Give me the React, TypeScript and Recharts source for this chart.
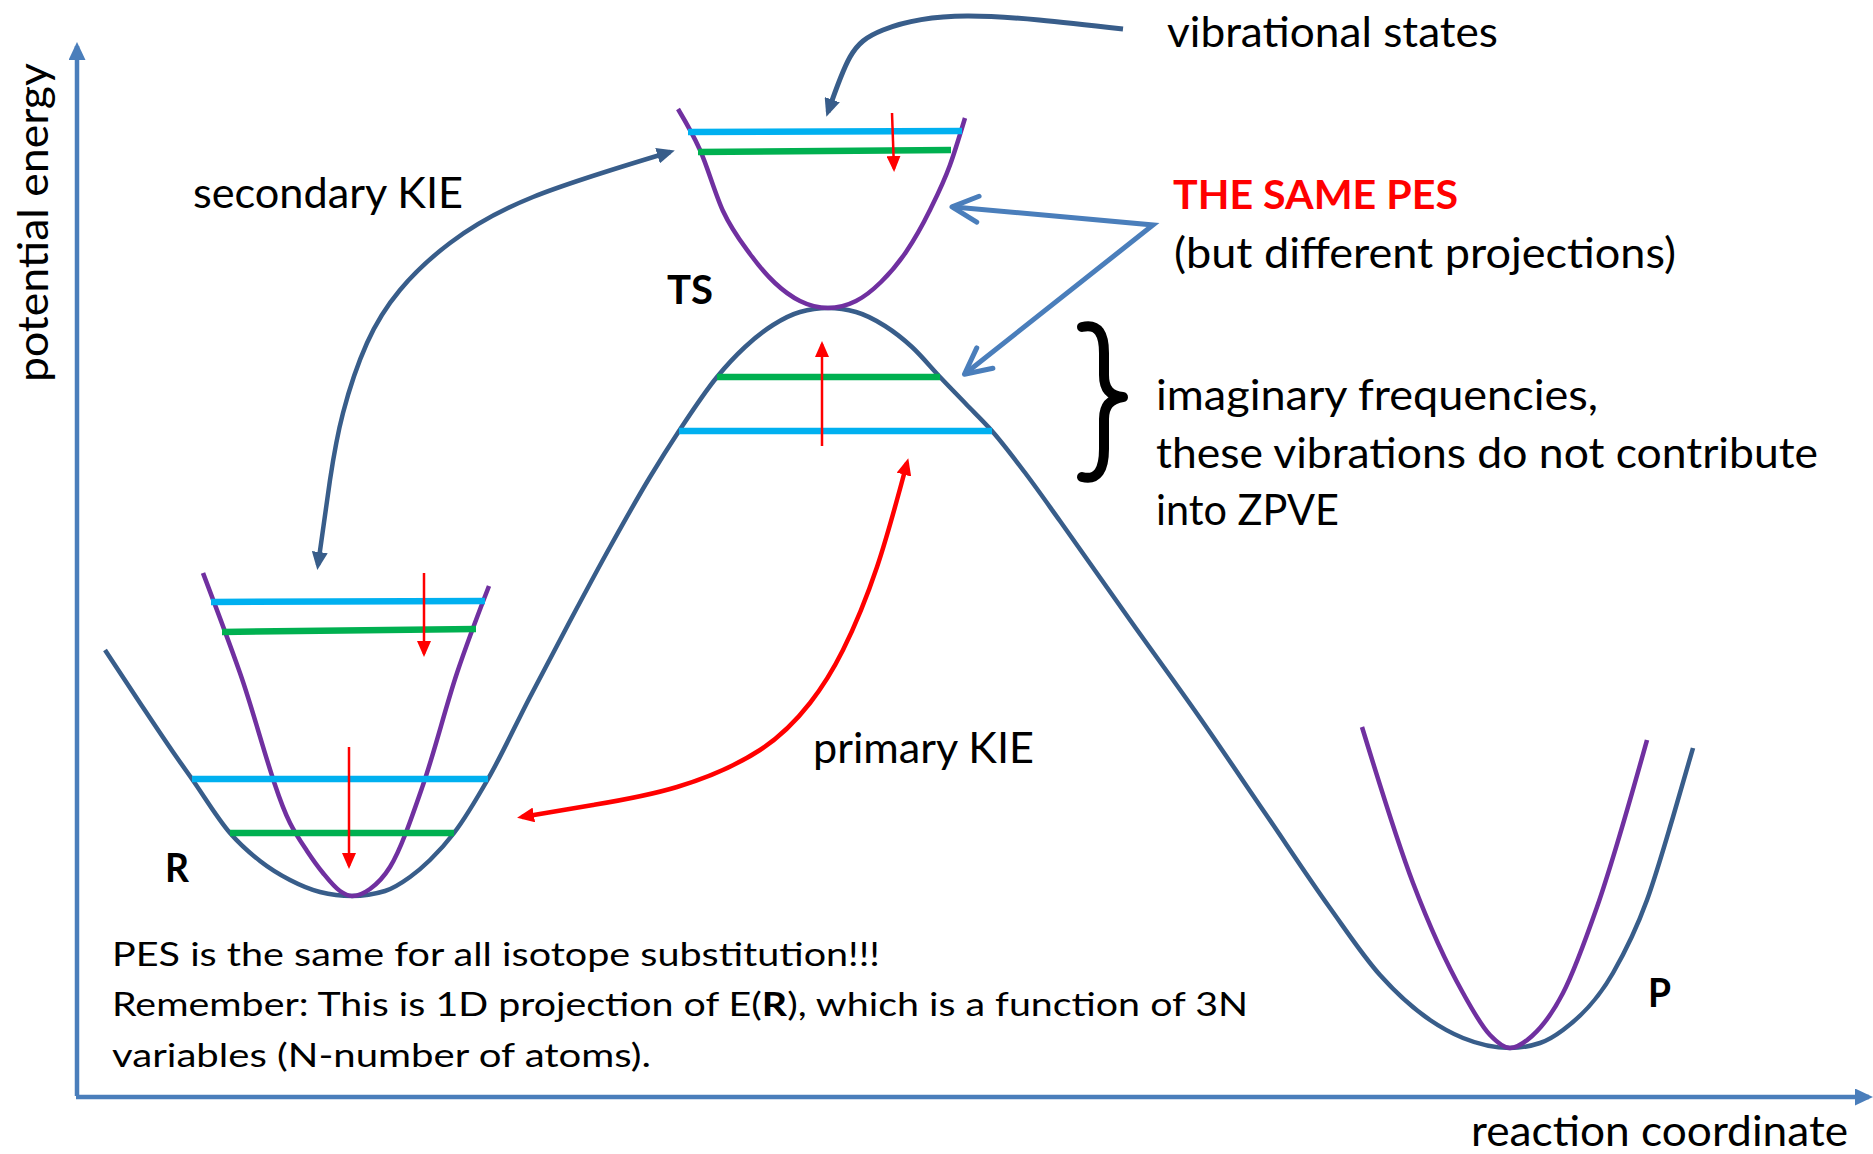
import React from 'react';
import { ComposedChart, Line, XAxis, YAxis, Customized } from 'recharts';

// ---------- data (reaction coordinate x, potential energy e) ----------
type Pair = [number, number];

const pesCurve: Pair[] = [
  [2.9, 44.6], [6.4, 39.3], [9.7, 34.4], [11.6, 31.7], [15.4, 26.3], [18.4, 23.5],
  [21.4, 21.6], [24.4, 20.4], [27.6, 20.0], [30.9, 20.5], [33.4, 21.9], [35.4, 23.6],
  [37.8, 26.3], [41.2, 31.7], [45.4, 39.9], [49.4, 47.5], [53.4, 54.9], [57.4, 61.9],
  [60.3, 66.5], [64.1, 71.9], [66.9, 74.9], [69.7, 77.1], [72.4, 78.4], [75.2, 78.8],
  [78.0, 78.4], [80.9, 77.0], [83.6, 74.9], [86.4, 71.9], [89.0, 69.2], [91.6, 66.5],
  [95.0, 62.2], [98.4, 57.5], [105.4, 47.6], [112.4, 37.8], [118.9, 28.3], [125.4, 18.8],
  [130.4, 12.1], [135.4, 7.6], [138.7, 5.8], [143.4, 4.8], [146.4, 5.3], [148.7, 6.6],
  [153.7, 12.3], [157.1, 19.6], [159.7, 27.9], [161.7, 34.8],
];

const reactantWell: Pair[] = [
  [12.7, 52.3], [16.4, 42.3], [21.4, 27.3], [23.1, 24.5], [24.7, 22.3], [26.4, 20.5],
  [27.6, 20.0], [29.4, 20.7], [31.4, 22.9], [34.7, 31.1], [38.1, 42.3], [41.3, 51.0],
];

const tsWell: Pair[] = [
  [60.2, 98.7], [62.4, 94.6], [64.7, 88.5], [67.4, 84.2], [69.9, 81.3], [72.4, 79.5],
  [75.2, 78.8], [78.0, 79.5], [80.5, 81.4], [83.0, 84.4], [85.4, 88.6], [87.4, 93.1],
  [88.9, 97.8],
];

const productWell: Pair[] = [
  [128.6, 36.9], [133.7, 21.3], [138.7, 10.3], [141.4, 6.1], [143.4, 4.8], [145.6, 6.0],
  [148.7, 10.3], [152.1, 18.9], [157.1, 35.6],
];

// vibrational levels
const rUpperCyan: Pair[] = [[13.5, 49.4], [40.9, 49.5]];
const rUpperGreen: Pair[] = [[14.6, 46.4], [40.0, 46.7]];
const rLowerCyan: Pair[] = [[11.6, 31.7], [41.2, 31.7]];
const rLowerGreen: Pair[] = [[15.4, 26.3], [37.8, 26.3]];
const tsUpperCyan: Pair[] = [[61.2, 96.4], [88.6, 96.5]];
const tsUpperGreen: Pair[] = [[62.2, 94.4], [87.5, 94.6]];
const tsLowerGreen: Pair[] = [[64.1, 71.9], [86.4, 71.9]];
const tsLowerCyan: Pair[] = [[60.3, 66.5], [91.6, 66.5]];

// level shifts (red arrows)
const tsTopShift: Pair[] = [[81.6, 98.3], [81.8, 92.7]];
const tsUpShift: Pair[] = [[74.6, 65.0], [74.6, 75.2]];
const rUpperShift: Pair[] = [[34.8, 52.3], [34.8, 44.2]];
const rLowerShift: Pair[] = [[27.3, 34.9], [27.3, 23.0]];

// annotation arrows
const secondaryKie: Pair[] = [
  [24.2, 53.1], [25.4, 61.6], [26.7, 68.3], [29.1, 75.3], [32.4, 80.6], [37.4, 85.3],
  [45.7, 89.9], [59.4, 94.4],
];
const primaryKie: Pair[] = [
  [83.1, 63.3], [80.1, 52.9], [76.7, 44.6], [73.4, 39.3], [68.4, 34.6], [60.1, 30.9],
  [51.7, 29.1], [44.6, 27.9],
];
const vibArrow: Pair[] = [[104.7, 106.7], [89.1, 108.0], [80.7, 106.6], [77.4, 103.9], [75.2, 98.4]];
const samePesArrows: Pair[] = [[87.8, 88.9], [107.7, 87.1], [89.0, 72.3]];

// axes
const energyAxis: Pair[] = [[0.1, 0], [0.1, 105.0]];
const coordAxis: Pair[] = [[0, -0.1], [179.3, -0.1]];

const X_DOMAIN: [number, number] = [-7.6, 179.7];
const Y_DOMAIN: [number, number] = [-5.8, 109.6];

// ---------- styles ----------
const C = {
  pes: '#385D8A',
  axis: '#4A7EBB',
  purple: '#7030A0',
  cyan: '#00B0F0',
  green: '#00B050',
  red: '#FF0000',
};
const FONT = "Lato, 'Open Sans', 'DejaVu Sans', sans-serif";

type Series = {
  key: string;
  data: Pair[];
  stroke: string;
  width: number;
  curve: 'monotone' | 'linear' | 'natural';
  mStart?: string;
  mEnd?: string;
};

const series: Series[] = [
  { key: 'energyAxis', data: energyAxis, stroke: C.axis, width: 4.5, curve: 'linear', mEnd: 'mAxis' },
  { key: 'coordAxis', data: coordAxis, stroke: C.axis, width: 4.5, curve: 'linear', mEnd: 'mAxis' },
  { key: 'pes', data: pesCurve, stroke: C.pes, width: 4.5, curve: 'monotone' },
  { key: 'rWell', data: reactantWell, stroke: C.purple, width: 4.5, curve: 'monotone' },
  { key: 'tsWell', data: tsWell, stroke: C.purple, width: 4.5, curve: 'monotone' },
  { key: 'pWell', data: productWell, stroke: C.purple, width: 4.5, curve: 'monotone' },
  { key: 'rUC', data: rUpperCyan, stroke: C.cyan, width: 6.5, curve: 'linear' },
  { key: 'rUG', data: rUpperGreen, stroke: C.green, width: 6.5, curve: 'linear' },
  { key: 'rLC', data: rLowerCyan, stroke: C.cyan, width: 6.5, curve: 'linear' },
  { key: 'rLG', data: rLowerGreen, stroke: C.green, width: 6.5, curve: 'linear' },
  { key: 'tUC', data: tsUpperCyan, stroke: C.cyan, width: 6.5, curve: 'linear' },
  { key: 'tUG', data: tsUpperGreen, stroke: C.green, width: 6.5, curve: 'linear' },
  { key: 'tLG', data: tsLowerGreen, stroke: C.green, width: 6.5, curve: 'linear' },
  { key: 'tLC', data: tsLowerCyan, stroke: C.cyan, width: 6.5, curve: 'linear' },
  { key: 'tsTop', data: tsTopShift, stroke: C.red, width: 2.5, curve: 'linear', mEnd: 'mRedSmall' },
  { key: 'tsUp', data: tsUpShift, stroke: C.red, width: 2.5, curve: 'linear', mEnd: 'mRedSmall' },
  { key: 'rUp', data: rUpperShift, stroke: C.red, width: 2.5, curve: 'linear', mEnd: 'mRedSmall' },
  { key: 'rLo', data: rLowerShift, stroke: C.red, width: 2.5, curve: 'linear', mEnd: 'mRedSmall' },
  { key: 'secKie', data: secondaryKie, stroke: C.pes, width: 4.5, curve: 'natural', mStart: 'mDark', mEnd: 'mDark' },
  { key: 'primKie', data: primaryKie, stroke: C.red, width: 4.5, curve: 'natural', mStart: 'mRed', mEnd: 'mRed' },
  { key: 'vib', data: vibArrow, stroke: C.pes, width: 5, curve: 'natural', mEnd: 'mDark' },
  { key: 'same', data: samePesArrows, stroke: C.axis, width: 5, curve: 'linear', mStart: 'mChevron', mEnd: 'mChevron' },
];

const toPts = (d: Pair[]) => d.map(([x, e]) => ({ x, e }));

function Markers() {
  const tri = (id: string, L: number, W: number, ref: number, fill: string) => (
    <marker
      id={id}
      viewBox={`0 0 ${L} ${W}`}
      markerWidth={L}
      markerHeight={W}
      refX={ref}
      refY={W / 2}
      orient="auto-start-reverse"
      markerUnits="userSpaceOnUse"
    >
      <path d={`M0,0 L${L},${W / 2} L0,${W} z`} fill={fill} />
    </marker>
  );
  return (
    <defs>
      {tri('mAxis', 18, 17, 14, C.axis)}
      {tri('mRedSmall', 16, 14, 13, C.red)}
      {tri('mRed', 17, 15, 12, C.red)}
      {tri('mDark', 18, 16, 13, C.pes)}
      <marker
        id="mChevron"
        viewBox="-4 -4 34 34"
        markerWidth={34}
        markerHeight={34}
        refX={24}
        refY={13}
        orient="auto-start-reverse"
        markerUnits="userSpaceOnUse"
      >
        <path d="M0,0 L26,13 L0,26" fill="none" stroke={C.axis} strokeWidth={5} strokeLinecap="round" strokeLinejoin="round" />
      </marker>
    </defs>
  );
}

type T = { text: React.ReactNode; x: number; y: number; len: number; size: number; bold?: boolean; color?: string };

const labels: T[] = [
  { text: 'secondary KIE', x: 193, y: 208, len: 270, size: 42 },
  { text: 'vibrational states', x: 1167, y: 47, len: 331, size: 42 },
  { text: 'THE SAME PES', x: 1173, y: 209, len: 285, size: 41, bold: true, color: C.red },
  { text: '(but different projections)', x: 1174, y: 268, len: 502, size: 42 },
  { text: 'imaginary frequencies,', x: 1156, y: 410, len: 442, size: 42 },
  { text: 'these vibrations do not contribute', x: 1156, y: 468, len: 662, size: 42 },
  { text: 'into ZPVE', x: 1156, y: 525, len: 183, size: 42 },
  { text: 'TS', x: 667, y: 304, len: 46, size: 41, bold: true },
  { text: 'primary KIE', x: 813, y: 763, len: 221, size: 42 },
  { text: 'R', x: 165, y: 882, len: 24, size: 41, bold: true },
  { text: 'P', x: 1648, y: 1007, len: 23, size: 41, bold: true },
  { text: 'reaction coordinate', x: 1471, y: 1146, len: 377, size: 42 },
  { text: 'PES is the same for all isotope substitution!!!', x: 112, y: 966, len: 768, size: 32 },
  {
    text: (
      <>
        Remember: This is 1D projection of E(<tspan fontWeight="bold">R</tspan>), which is a function of 3N
      </>
    ),
    x: 112, y: 1016, len: 1136, size: 32,
  },
  { text: 'variables (N-number of atoms).', x: 112, y: 1067, len: 539, size: 32 },
];

function Annotations() {
  return (
    <g fontFamily={FONT}>
      <Markers />
      {labels.map((t, i) => (
        <text
          key={i}
          x={t.x}
          y={t.y}
          fontSize={t.size}
          fontWeight={t.bold ? 'bold' : 'normal'}
          fill={t.color || '#000'}
          textLength={t.len}
          lengthAdjust="spacingAndGlyphs"
        >
          {t.text}
        </text>
      ))}
      <text
        transform="translate(48,382) rotate(-90)"
        x={0}
        y={0}
        fontSize={42}
        fill="#000"
        textLength={319}
        lengthAdjust="spacingAndGlyphs"
      >
        potential energy
      </text>
      <path
        d="M1082,327 C1099,323 1104,335 1104,353 L1104,375 C1104,389 1110,396 1123,397 C1110,399 1104,406 1104,419 L1104,449 C1104,469 1098,481 1082,477"
        fill="none"
        stroke="#000"
        strokeWidth={10}
        strokeLinecap="round"
        strokeLinejoin="round"
      />
    </g>
  );
}

export default function App() {
  return (
    <div style={{ position: 'absolute', left: 0, top: 0, width: 1873, height: 1154, background: '#fff' }}>
      <ComposedChart width={1873} height={1154} margin={{ top: 0, right: 0, bottom: 0, left: 0 }}>
        <XAxis type="number" dataKey="x" domain={X_DOMAIN} allowDataOverflow hide />
        <YAxis type="number" dataKey="e" domain={Y_DOMAIN} allowDataOverflow hide />
        {series.map((s) => (
          <Line
            key={s.key}
            data={toPts(s.data)}
            dataKey="e"
            type={s.curve}
            stroke={s.stroke}
            strokeWidth={s.width}
            dot={false}
            activeDot={false}
            isAnimationActive={false}
            legendType="none"
            markerStart={s.mStart ? `url(#${s.mStart})` : undefined}
            markerEnd={s.mEnd ? `url(#${s.mEnd})` : undefined}
          />
        ))}
        <Customized component={Annotations} />
      </ComposedChart>
    </div>
  );
}
